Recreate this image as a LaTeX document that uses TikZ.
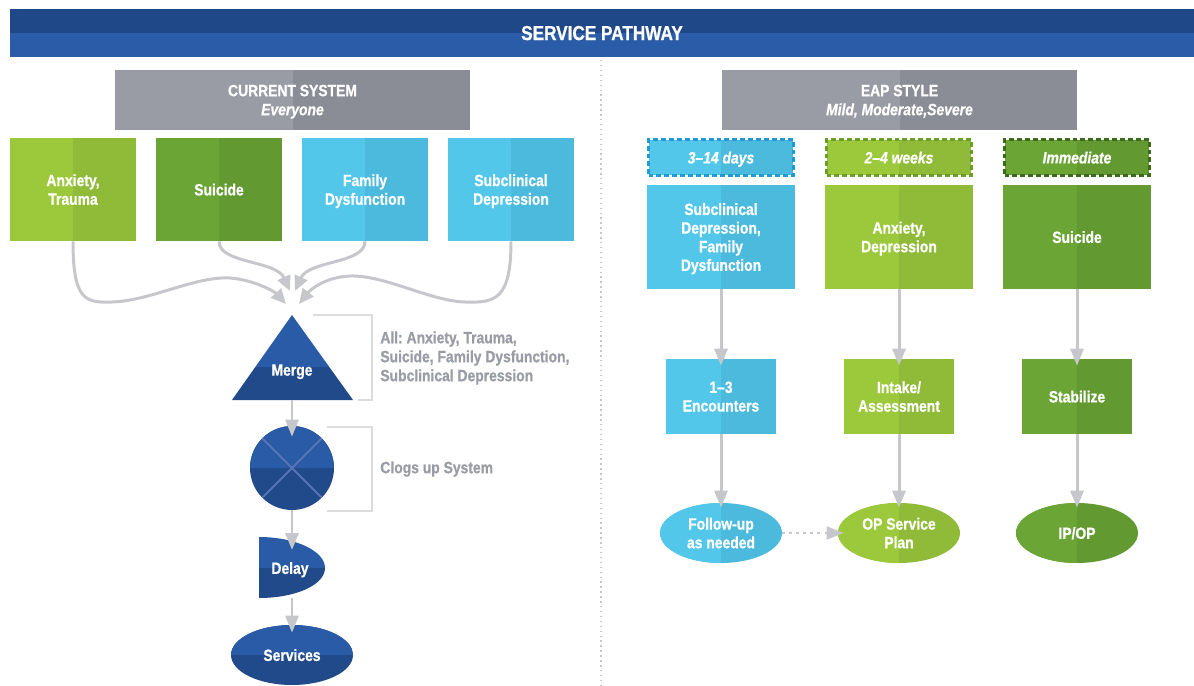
\documentclass[tikz,border=0pt]{standalone}
\usepackage{fontspec}
\setmainfont{Liberation Sans}[FakeStretch=0.85, BoldFeatures={FakeBold=0.8}, BoldItalicFeatures={FakeBold=0.8}]
\usetikzlibrary{arrows.meta,shapes.geometric}

\definecolor{headA}{HTML}{1F4888}
\definecolor{headB}{HTML}{2A5CA8}
\definecolor{grayA}{HTML}{9A9CA5}
\definecolor{grayB}{HTML}{8A8D96}
\definecolor{lgreenA}{HTML}{9CC93B}
\definecolor{lgreenB}{HTML}{8FBB38}
\definecolor{dgreenA}{HTML}{6BA535}
\definecolor{dgreenB}{HTML}{629A31}
\definecolor{lblueA}{HTML}{53C7EA}
\definecolor{lblueB}{HTML}{4BBADD}
\definecolor{navyA}{HTML}{2A5BA7}
\definecolor{navyB}{HTML}{214A8A}
\definecolor{xline}{HTML}{5B74B5}
\definecolor{arrowgray}{HTML}{C6C7CB}
\definecolor{bracketgray}{HTML}{DCDCDE}
\definecolor{labelgray}{HTML}{9A9CA5}
\definecolor{lblueDash}{HTML}{1E9AD6}
\definecolor{lgreenDash}{HTML}{6A9E25}
\definecolor{dgreenDash}{HTML}{3B6A1B}

\newcommand\boxfont{\bfseries\frenchspacing\fontsize{9.3}{10.6}\selectfont}
\newcommand\sysfont{\bfseries\frenchspacing\fontsize{9.3}{10.8}\selectfont}
\newcommand\headfont{\bfseries\fontsize{11.5}{13}\selectfont}

\tikzset{
    vsplit/.style 2 args={fill=#2, path picture={
        \fill[#1] (path picture bounding box.south west) rectangle (path picture bounding box.north);}},
    hsplit/.style 2 args={fill=#2, path picture={
        \fill[#1] (path picture bounding box.north west) rectangle (path picture bounding box.east);}},
    wtext/.style={text=white, font=\boxfont, align=center, inner sep=0pt, text depth=0pt},
    sysbox/.style={wtext, font=\sysfont, vsplit={grayA}{grayB}, minimum width=7.1cm, minimum height=1.2cm},
    catbox/.style={wtext, minimum width=2.52cm, minimum height=2.06cm},
    timebox/.style={wtext, font=\boxfont\itshape, minimum width=2.9cm, minimum height=0.72cm,
        line width=1.3pt, dash pattern=on 2.8pt off 1.7pt},
    casebox/.style={wtext, minimum width=2.96cm, minimum height=2.08cm},
    stepbox/.style={wtext, minimum width=2.2cm, minimum height=1.5cm},
    endbox/.style={wtext, ellipse, minimum width=2.44cm, minimum height=1.2cm},
    flow/.style={draw=arrowgray, line width=1.7pt, -{Triangle[length=0.34cm,width=0.26cm]}},
    curveflow/.style={draw=arrowgray, line width=1.7pt, -{Triangle[length=0.3cm,width=0.27cm]}},
    bracket/.style={draw=bracketgray, line width=0.8pt},
    note/.style={text=labelgray, font=\sysfont, align=left, anchor=west, inner sep=0pt},
}

\begin{document}
\begin{tikzpicture}[x=0.02cm, y=-0.02cm]
    \useasboundingbox (0,0) rectangle (1194,686);

    % Title band
    \node [wtext, font=\headfont, hsplit={headA}{headB}, minimum width=23.68cm, minimum height=0.96cm]
        (title) at (602,33) {SERVICE PATHWAY};

    % Divider between the two systems
    \draw[arrowgray, line width=0.8pt, dotted] (601,60) -- (601,686);

    % Current system
    \node [sysbox] (current) at (292.5,100) {CURRENT SYSTEM\\\textit{Everyone}};

    \node [catbox, vsplit={lgreenA}{lgreenB}] (anx) at (73,189.5) {Anxiety,\\Trauma};
    \node [catbox, vsplit={dgreenA}{dgreenB}] (sui) at (219,189.5) {Suicide};
    \node [catbox, vsplit={lblueA}{lblueB}] (fam) at (365,189.5) {Family\\Dysfunction};
    \node [catbox, vsplit={lblueA}{lblueB}] (sub) at (511,189.5) {Subclinical\\Depression};

    % Merge triangle
    \coordinate (mergetop) at (292,315);
    \coordinate (mergebot) at (292,400);
    \fill[navyA] (mergetop) -- (255.3,367) -- (329.3,367) -- cycle;
    \fill[navyB] (255.3,367) -- (232,400) -- (353,400) -- (329.3,367) -- cycle;
    \node [wtext] (merge) at (292,370) {Merge};

    % Arrows into the merge
    \coordinate (in1) at (286,304);
    \coordinate (in2) at (290,291);
    \coordinate (in3) at (295,291);
    \coordinate (in4) at (299,304);
    \draw[curveflow] (anx.south) .. controls (73,300) and (85,303) .. (112,302)
        .. controls (150,301) and (195,276) .. (230,278)
        .. controls (255,280) and (275,292) .. (in1);
    \draw[curveflow] (sui.south) .. controls (219,264) and (276,260) .. (in2);
    \draw[curveflow] (fam.south) .. controls (365,264) and (309,260) .. (in3);
    \draw[curveflow] (sub.south) .. controls (511,300) and (495,303) .. (465,302)
        .. controls (430,301) and (385,275) .. (350,276)
        .. controls (325,277) and (310,290) .. (in4);

    % Clog
    \node [circle, minimum size=1.68cm, inner sep=0pt, fill=navyB, path picture={
        \fill[navyA] (path picture bounding box.north west) rectangle (path picture bounding box.east);
        \draw[xline, line width=1.2pt] (path picture bounding box.north west) -- (path picture bounding box.south east)
            (path picture bounding box.north east) -- (path picture bounding box.south west);}]
        (clog) at (292,468) {};

    % Delay
    \coordinate (delaytop) at (292,537);
    \coordinate (delaybot) at (292,598);
    \fill[navyA] (259,537) .. controls (295.5,537) and (325,551) .. (325,568) -- (259,568) -- cycle;
    \fill[navyB] (259,568) -- (325,568) .. controls (325,585) and (295.5,598) .. (259,598) -- cycle;
    \node [wtext] (delay) at (290,568) {Delay};

    % Services
    \node [endbox, hsplit={navyA}{navyB}] (services) at (292,655) {Services};

    \draw[flow, shorten >=-0.22cm] (mergebot) -- (clog.north);
    \draw[flow, shorten >=-0.26cm] (clog.south) -- (delaytop);
    \draw[flow, shorten >=-0.16cm] (delaybot) -- (services.north);

    % Brackets and notes
    \draw[bracket] (313,315) -| (372,400) -- (358,400);
    \draw[bracket] (327,427) -| (372,511) -- (327,511);
    \node [note] (allnote) at (380,358) {All: Anxiety, Trauma,\\Suicide, Family Dysfunction,\\Subclinical Depression};
    \node [note] (clognote) at (380,469) {Clogs up System};

    % EAP style
    \node [sysbox] (eap) at (899.5,100) {EAP STYLE\\\textit{Mild, Moderate,Severe}};

    \node [timebox, vsplit={lblueA}{lblueB}, draw=lblueDash] (timeA) at (721,157.5) {3–14 days};
    \node [timebox, vsplit={lgreenA}{lgreenB}, draw=lgreenDash] (timeB) at (899,157.5) {2–4 weeks};
    \node [timebox, vsplit={dgreenA}{dgreenB}, draw=dgreenDash] (timeC) at (1077,157.5) {Immediate};

    \node [casebox, vsplit={lblueA}{lblueB}] (caseA) at (721,237) {Subclinical\\Depression,\\Family\\Dysfunction};
    \node [casebox, vsplit={lgreenA}{lgreenB}] (caseB) at (899,237) {Anxiety,\\Depression};
    \node [casebox, vsplit={dgreenA}{dgreenB}] (caseC) at (1077,237) {Suicide};

    \node [stepbox, vsplit={lblueA}{lblueB}] (stepA) at (721,396.5) {1–3\\Encounters};
    \node [stepbox, vsplit={lgreenA}{lgreenB}] (stepB) at (899,396.5) {Intake/\\Assessment};
    \node [stepbox, vsplit={dgreenA}{dgreenB}] (stepC) at (1077,396.5) {Stabilize};

    \node [endbox, vsplit={lblueA}{lblueB}] (endA) at (721,533) {Follow-up\\as needed};
    \node [endbox, vsplit={lgreenA}{lgreenB}] (endB) at (899,533) {OP Service\\Plan};
    \node [endbox, vsplit={dgreenA}{dgreenB}] (endC) at (1077,533) {IP/OP};

    \foreach \c in {A,B,C} {
        \draw[flow, shorten >=-0.14cm] (case\c.south) -- (step\c.north);
        \draw[flow, shorten >=-0.1cm] (step\c.south) -- (end\c.north);
    }

    \draw[flow, line width=1.2pt, dash pattern=on 1.4pt off 2.6pt, shorten >=-0.12cm] (endA.east) -- (endB.west);
\end{tikzpicture}
\end{document}
